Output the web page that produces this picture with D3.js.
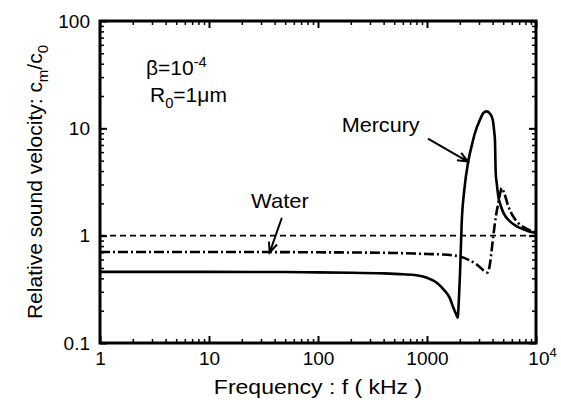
<!DOCTYPE html>
<html>
<head>
<meta charset="utf-8">
<script src="https://cdn.jsdelivr.net/npm/d3@7"></script>
<style>
  body { margin: 0; background: #fff; }
  text { font-family: "Liberation Sans", Arial, sans-serif; fill: #000; }
</style>
</head>
<body>
<script>
const WIDTH = 561;
const HEIGHT = 404;
const MARGIN = {TOP: 21, RIGHT: 25, BOTTOM: 61, LEFT: 100};
const PW = WIDTH - MARGIN.LEFT - MARGIN.RIGHT;
const PH = HEIGHT - MARGIN.TOP - MARGIN.BOTTOM;

// values (f in kHz, relative velocity)
const mercuryF = [1, 10, 50, 100, 200, 400, 600, 800, 1000, 1230, 1410, 1620, 1740, 1850, 1910,
  1960, 2010, 2080, 2200, 2390, 2600, 2750, 3060, 3290, 3530, 3800, 4010, 4150, 4200, 4270,
  4360, 4510, 4750, 5030, 5770, 6500, 7130, 8500, 10000];
const mercuryC = [0.46, 0.46, 0.458, 0.455, 0.452, 0.445, 0.437, 0.428, 0.405, 0.365, 0.318, 0.262, 0.215, 0.185, 0.172,
  0.25, 0.45, 1.3, 2.68, 4.9, 7.2, 9.0, 12.0, 13.9, 14.4, 13.6, 12.0, 9.0, 7.85, 3.84,
  3.1, 2.32, 1.9, 1.63, 1.36, 1.24, 1.18, 1.1, 1.06];

const waterF = [1, 10, 100, 500, 1000, 1315, 2000, 2850, 3600, 3785, 3900, 4060, 4300, 4510,
  4700, 4840, 5100, 5570, 6200, 6880, 7700, 8500, 10000];
const waterC = [0.705, 0.705, 0.70, 0.69, 0.675, 0.67, 0.64, 0.54, 0.455, 0.55, 0.7, 1.0, 1.55, 2.02,
  2.5, 2.78, 2.5, 1.88, 1.5, 1.31, 1.2, 1.14, 1.07];

const refF = [1, 10000];
const refC = [1, 1];

const xTicks = [1, 10, 100, 1000, 10000];
const xTickLabels = ["1", "10", "100", "1000", "10^4"];
const yTicks = [0.1, 1, 10, 100];
const yTickLabels = ["0.1", "1", "10", "100"];

var svg = d3.select("body").append("svg")
    .attr("width", WIDTH)
    .attr("height", HEIGHT);

var g = svg.append("g")
    .attr("transform", "translate(" + MARGIN.LEFT + "," + MARGIN.TOP + ")");

var x = d3.scaleLog().domain([1, 10000]).range([0, PW]);
var y = d3.scaleLog().domain([0.1, 100]).range([PH, 0]);

// minor ticks 2..9 of every decade
function minors(lo, hi) {
    var out = [];
    for (var d = lo; d < hi; d *= 10)
        for (var k = 2; k <= 9; k++) out.push(d * k);
    return out;
}
var xMinor = minors(1, 10000);
var yMinor = minors(0.1, 100);

function tickAxis(axisFn, scale, values, size, tr) {
    var a = g.append("g")
        .attr("transform", tr)
        .call(axisFn(scale).tickValues(values).tickSize(size).tickFormat(""));
    a.select(".domain").remove();
    return a;
}

// inward ticks on all four sides
var sides = [
    [d3.axisBottom, x, "translate(0," + PH + ")", xTicks, xMinor],
    [d3.axisTop, x, "translate(0,0)", xTicks, xMinor],
    [d3.axisLeft, y, "translate(0,0)", yTicks, yMinor],
    [d3.axisRight, y, "translate(" + PW + ",0)", yTicks, yMinor]
];
sides.forEach(function(s) {
    tickAxis(s[0], s[1], s[3], -7, s[2]).selectAll("line").attr("stroke-width", 2);
    tickAxis(s[0], s[1], s[4], -4, s[2]).selectAll("line").attr("stroke-width", 1.5);
});

// tick labels
var xl = g.append("g").attr("transform", "translate(0," + PH + ")")
    .call(d3.axisBottom(x).tickValues(xTicks).tickSize(0).tickPadding(9)
        .tickFormat(function(d, i) { return xTickLabels[i]; }));
xl.select(".domain").remove();
xl.selectAll("text").attr("font-size", 19).attr("font-family", "Liberation Sans, Arial, sans-serif")
    .each(function(d, i) {
        var t = d3.select(this);
        var s = xTickLabels[i];
        if (s.indexOf("^") > 0) {
            var p = s.split("^");
            t.text(null).attr("dx", 6);
            t.append("tspan").text(p[0]);
            t.append("tspan").attr("dy", -8).attr("font-size", 13).text(p[1]);
        }
    });

var yl = g.append("g")
    .call(d3.axisLeft(y).tickValues(yTicks).tickSize(0).tickPadding(10)
        .tickFormat(function(d, i) { return yTickLabels[i]; }));
yl.select(".domain").remove();
yl.selectAll("text").attr("font-size", 19).attr("font-family", "Liberation Sans, Arial, sans-serif");

// curves
var line = d3.line()
    .x(function(d) { return x(d[0]); })
    .y(function(d) { return y(d[1]); })
    .curve(d3.curveMonotoneX);

var plot = g.append("g");
plot.append("path")
    .datum(d3.zip(refF, refC))
    .attr("d", line).attr("fill", "none").attr("stroke", "#000")
    .attr("stroke-width", 1.6).attr("stroke-dasharray", "6,4");
plot.append("path")
    .datum(d3.zip(waterF, waterC))
    .attr("d", line).attr("fill", "none").attr("stroke", "#000")
    .attr("stroke-width", 2.6).attr("stroke-dasharray", "10,3,2,3");
plot.append("path")
    .datum(d3.zip(mercuryF, mercuryC))
    .attr("d", line).attr("fill", "none").attr("stroke", "#000")
    .attr("stroke-width", 2.6).attr("stroke-linejoin", "round");

// frame
g.append("rect")
    .attr("width", PW).attr("height", PH)
    .attr("fill", "none").attr("stroke", "#000").attr("stroke-width", 3);

// arrows (in data units)
function arrow(f0, c0, f1, c1) {
    var x0 = x(f0), y0 = y(c0), x1 = x(f1), y1 = y(c1);
    var ang = Math.atan2(y1 - y0, x1 - x0);
    var L = 11, A = 0.4;
    var p = d3.path();
    p.moveTo(x0, y0); p.lineTo(x1, y1);
    p.moveTo(x1 - L * Math.cos(ang - A), y1 - L * Math.sin(ang - A));
    p.lineTo(x1, y1);
    p.lineTo(x1 - L * Math.cos(ang + A), y1 - L * Math.sin(ang + A));
    g.append("path").attr("d", p.toString()).attr("fill", "none")
        .attr("stroke", "#000").attr("stroke-width", 2);
}
arrow(1020, 8.0, 2370, 4.9);
arrow(46.6, 1.47, 36, 0.695);

// text helper with slight horizontal stretch
function label(px, py, size, sx, anchor) {
    return svg.append("g")
        .attr("transform", "translate(" + px + "," + py + ") scale(" + sx + ",1)")
        .append("text").attr("font-size", size).attr("text-anchor", anchor || "start");
}

label(MARGIN.LEFT + x(165), MARGIN.TOP + y(9.3), 20, 1.08).text("Mercury");
label(MARGIN.LEFT + x(24.3), MARGIN.TOP + y(1.82), 20, 1.1).text("Water");

var b = label(146, 75, 20, 1.05);
b.append("tspan").text("\u03b2=10");
b.append("tspan").attr("dy", -8).attr("font-size", 14).text("-4");
var r = label(150, 102, 20, 1.05);
r.append("tspan").text("R");
r.append("tspan").attr("dy", 6).attr("font-size", 14).text("0");
r.append("tspan").attr("dy", -6).text("=1\u03bcm");

label(MARGIN.LEFT + PW / 2, 394, 20, 1.15, "middle").text("Frequency : f ( kHz )");

var yt = svg.append("text")
    .attr("transform", "translate(42," + (MARGIN.TOP + PH / 2) + ") rotate(-90)")
    .attr("text-anchor", "middle").attr("font-size", 21);
yt.append("tspan").text("Relative sound velocity: c");
yt.append("tspan").attr("dy", 6).attr("font-size", 15).text("m");
yt.append("tspan").attr("dy", -6).text("/c");
yt.append("tspan").attr("dy", 6).attr("font-size", 15).text("0");
</script>
</body>
</html>
